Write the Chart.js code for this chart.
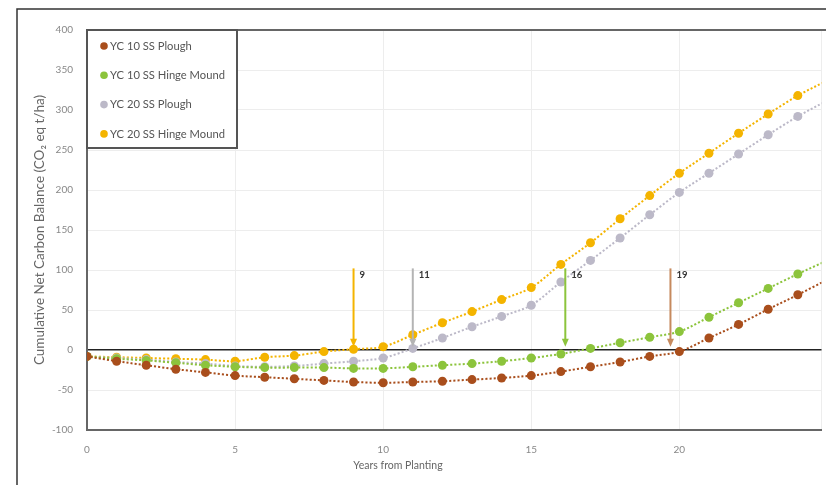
<!DOCTYPE html>
<html>
<head>
<meta charset="utf-8">
<script src="https://cdn.jsdelivr.net/npm/chart.js@4.4.1/dist/chart.umd.min.js"></script>
<style>
html,body{margin:0;padding:0;background:#fff;overflow:hidden;}
canvas{display:block;}
</style>
</head>
<body>
<canvas id="c" width="826" height="485"></canvas>
<script>
// ---- data ----
const years = [0,1,2,3,4,5,6,7,8,9,10,11,12,13,14,15,16,17,18,19,20,21,22,23,24,25];
const yc10Plough = [-8,-14,-19,-24,-28,-32,-34,-36,-38,-40,-41,-40,-39,-37,-35,-32,-27,-21,-15,-8,-2,15,32,51,69,88];
const yc10Hinge  = [-8,-11,-13,-16,-19,-21,-22,-22,-22,-23,-23,-21,-19,-17,-14,-10,-5,2,9,16,23,41,59,77,95,112];
const yc20Plough = [-8,-10,-12,-15,-17,-20,-21,-20,-17,-14,-10,2,15,29,42,56,85,112,140,169,197,221,245,269,292,312];
const yc20Hinge  = [-8,-9,-10,-11,-12,-14,-9,-7,-2,1,4,19,34,48,63,78,107,134,164,193,221,246,271,295,318,337];
const seriesLabels = ['YC 10 SS Plough','YC 10 SS Hinge Mound','YC 20 SS Plough','YC 20 SS Hinge Mound'];
const seriesColors = ['#A94E1C','#8CC43C','#BCB9C8','#F4B400'];
const arrowColors  = ['#F4B400','#B4B4B4','#8CC43C','#C68A5E'];
const arrowYears   = [9, 11, 16.15, 19.7];
const arrowLabels  = ['9','11','16','19'];
const arrowTop = 102;
const arrowTip = 4;
const xTickLabels = ['0','5','10','15','20'];
const yTitle = 'Cumulative Net Carbon Balance (CO\u2082 eq t/ha)';
const xTitle = 'Years from Planting';

const seriesValues = [yc10Plough, yc10Hinge, yc20Plough, yc20Hinge];

Chart.defaults.font.family = 'Lato, "Open Sans", sans-serif';

const datasets = seriesValues.map((vals, i) => ({
  label: seriesLabels[i],
  data: vals.map((v, k) => ({x: years[k], y: v})),
  borderColor: seriesColors[i],
  backgroundColor: seriesColors[i],
  borderWidth: 2,
  borderDash: [2, 2],
  pointRadius: 4.5,
  pointBorderWidth: 0,
  pointBackgroundColor: seriesColors[i],
  tension: 0.3,
  fill: false
}));

const decor = {
  id: 'decor',
  beforeDraw(chart) {
    const ctx = chart.ctx;
    ctx.save();
    ctx.fillStyle = '#fff';
    ctx.fillRect(0, 0, chart.width, chart.height);
    ctx.restore();
  },
  afterDraw(chart) {
    const ctx = chart.ctx;
    const xs = chart.scales.x, ys = chart.scales.y;
    const a = chart.chartArea;
    ctx.save();
    // outer frame
    ctx.strokeStyle = '#333';
    ctx.lineWidth = 1.5;
    ctx.beginPath();
    ctx.moveTo(17, chart.height + 2);
    ctx.lineTo(17, 9);
    ctx.lineTo(chart.width + 2, 9);
    ctx.stroke();
    // top border of plot
    ctx.strokeStyle = '#666';
    ctx.lineWidth = 2;
    ctx.beginPath();
    ctx.moveTo(a.left - 1, a.top);
    ctx.lineTo(chart.width + 2, a.top);
    ctx.stroke();

    // arrows
    arrowYears.forEach((yr, i) => {
      const px = xs.getPixelForValue(yr);
      const top = ys.getPixelForValue(arrowTop);
      const tip = ys.getPixelForValue(arrowTip);
      ctx.strokeStyle = arrowColors[i];
      ctx.fillStyle = arrowColors[i];
      ctx.lineWidth = 2;
      ctx.beginPath();
      ctx.moveTo(px, top);
      ctx.lineTo(px, tip - 6);
      ctx.stroke();
      ctx.beginPath();
      ctx.moveTo(px - 3.5, tip - 8);
      ctx.lineTo(px + 3.5, tip - 8);
      ctx.lineTo(px, tip);
      ctx.closePath();
      ctx.fill();
      ctx.fillStyle = '#333';
      ctx.font = 'bold 9.5px Lato, sans-serif';
      ctx.textAlign = 'left';
      ctx.textBaseline = 'middle';
      ctx.fillText(arrowLabels[i], px + 6, top + 7);
    });

    // legend box
    const lx = a.left, ly = a.top, lw = 150, lh = 118;
    ctx.fillStyle = '#fff';
    ctx.fillRect(lx, ly, lw, lh);
    ctx.strokeStyle = '#555';
    ctx.lineWidth = 2;
    ctx.strokeRect(lx, ly, lw, lh);
    seriesLabels.forEach((lab, i) => {
      const cy = ly + 16 + i * 29.3;
      ctx.fillStyle = seriesColors[i];
      ctx.beginPath();
      ctx.arc(lx + 17, cy, 3.8, 0, Math.PI * 2);
      ctx.fill();
      ctx.fillStyle = '#555';
      ctx.font = '11.2px Lato, sans-serif';
      ctx.textAlign = 'left';
      ctx.textBaseline = 'middle';
      ctx.fillText(lab, lx + 23, cy);
    });

    // axis titles
    ctx.fillStyle = '#666';
    ctx.font = '10.5px Lato, sans-serif';
    ctx.textAlign = 'center';
    ctx.textBaseline = 'middle';
    ctx.fillText(xTitle, xs.getPixelForValue(10.5), 466);
    ctx.save();
    ctx.font = '13.5px Lato, sans-serif';
    ctx.translate(40, ys.getPixelForValue(150));
    ctx.rotate(-Math.PI / 2);
    ctx.fillText(yTitle, 0, 0);
    ctx.restore();
    ctx.restore();
  }
};

new Chart(document.getElementById('c'), {
  type: 'line',
  data: { datasets },
  options: {
    responsive: false,
    animation: false,
    layout: { padding: { top: 30, right: 0, left: 0, bottom: 0 } },
    plugins: { legend: { display: false }, tooltip: { enabled: false } },
    scales: {
      x: {
        type: 'linear',
        min: 0, max: 24.8,
        afterFit: s => { s.height = 55; s.paddingRight = 0; s.paddingLeft = 0; },
        ticks: {
          stepSize: 5,
          padding: 14,
          color: '#888',
          font: { size: 10 },
          maxRotation: 0,
          callback: v => xTickLabels.includes(String(v)) ? String(v) : ''
        },
        grid: { color: '#ededed', lineWidth: 1, drawTicks: false },
        border: { display: true, color: '#666', width: 2 }
      },
      y: {
        min: -100, max: 400,
        afterFit: s => { s.width = 87; },
        ticks: { stepSize: 50, padding: 14, color: '#888', font: { size: 10 } },
        grid: {
          drawTicks: false,
          color: c => c.tick && c.tick.value === 0 ? '#222' : '#ededed',
          lineWidth: c => c.tick && c.tick.value === 0 ? 1.5 : 1
        },
        border: { display: true, color: '#666', width: 2 }
      }
    }
  },
  plugins: [decor]
});
</script>
</body>
</html>
